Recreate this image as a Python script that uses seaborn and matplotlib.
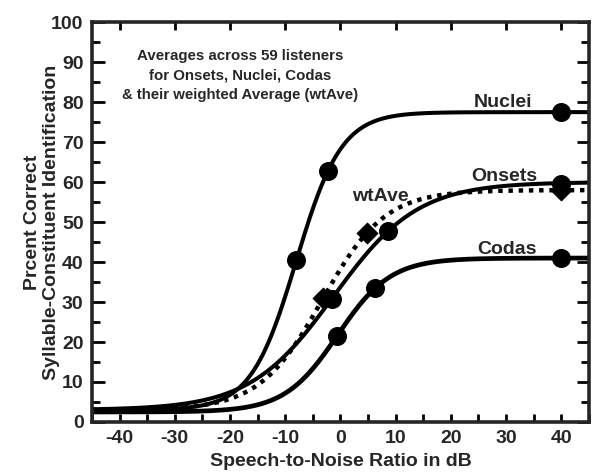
import numpy as np
import pandas as pd
import matplotlib
matplotlib.use("Agg")
import matplotlib.pyplot as plt
import seaborn as sns
from matplotlib.ticker import MultipleLocator

# ---- data ----
series = ["Nuclei", "Onsets", "Codas", "wtAve"]
# observed points (SNR in dB, percent correct)
nuclei_x = [-8.0, -2.2, 40.0]
nuclei_y = [40.5, 62.8, 77.5]
onsets_x = [-1.6, 8.7, 40.0]
onsets_y = [30.7, 47.8, 59.5]
codas_x = [-0.6, 6.3, 40.0]
codas_y = [21.5, 33.4, 41.0]
wtave_x = [-3.1, 4.8, 40.0]
wtave_y = [30.9, 47.2, 58.0]
# fitted logistic parameters per series: lower, upper, midpoint, slope
fit_lower = [3.0, 3.0, 2.5, 3.0]
fit_upper = [77.5, 60.0, 41.0, 58.0]
fit_mid = [-8.0, -1.2, -0.5, -3.3]
fit_slope = [4.1, 7.6, 4.8, 5.7]

x_ticks = [-40, -30, -20, -10, 0, 10, 20, 30, 40]
y_ticks = [0, 10, 20, 30, 40, 50, 60, 70, 80, 90, 100]

# ---- build tables ----
xs = np.linspace(-45, 45, 500)
curve_rows = []
for name, lo, up, m, s in zip(series, fit_lower, fit_upper, fit_mid, fit_slope):
    ys = lo + (up - lo) / (1 + np.exp(-(xs - m) / s))
    curve_rows.append(pd.DataFrame({"snr": xs, "pc": ys, "series": name}))
curves = pd.concat(curve_rows, ignore_index=True)

pts = pd.DataFrame({
    "snr": nuclei_x + onsets_x + codas_x + wtave_x,
    "pc": nuclei_y + onsets_y + codas_y + wtave_y,
    "series": ["Nuclei"] * 3 + ["Onsets"] * 3 + ["Codas"] * 3 + ["wtAve"] * 3,
})

sns.set_style("ticks")
plt.rcParams["font.family"] = ["Liberation Sans", "DejaVu Sans"]
plt.rcParams["font.weight"] = "bold"

fig = plt.figure(figsize=(5.93, 4.72), dpi=100)
ax = fig.add_axes([0.155, 0.106, 0.838, 0.847])

widths = {"Nuclei": 2.9, "Onsets": 2.9, "Codas": 3.4, "wtAve": 3.2}
for name in series:
    d = curves[curves.series == name]
    if name == "wtAve":
        sns.lineplot(data=d, x="snr", y="pc", ax=ax, color="black",
                     linewidth=widths[name], linestyle=(0, (1.0, 1.3)),
                     dash_capstyle="butt", legend=False)
    else:
        sns.lineplot(data=d, x="snr", y="pc", ax=ax, color="black",
                     linewidth=widths[name], legend=False)

circ = pts[pts.series != "wtAve"]
diam = pts[pts.series == "wtAve"]
sns.scatterplot(data=circ, x="snr", y="pc", ax=ax, color="black", marker="o",
                s=160, edgecolor="black", zorder=5, legend=False)
sns.scatterplot(data=diam, x="snr", y="pc", ax=ax, color="black", marker="D",
                s=110, edgecolor="black", zorder=5, legend=False)

ax.set_xlim(-45, 45)
ax.set_ylim(0, 100)
ax.set_xticks(x_ticks)
ax.set_yticks(y_ticks)
ax.xaxis.set_minor_locator(MultipleLocator(5))
ax.yaxis.set_minor_locator(MultipleLocator(5))
ax.set_xticklabels([str(v) for v in x_ticks], fontsize=14, fontweight="bold")
ax.set_yticklabels([str(v) for v in y_ticks], fontsize=14, fontweight="bold")

for sp in ax.spines.values():
    sp.set_linewidth(2.6)
    sp.set_visible(True)
ax.tick_params(which="both", direction="in", width=2.0, top=True, right=True,
               color="black", pad=6)
ax.tick_params(axis="x", which="major", length=6)
ax.tick_params(axis="x", which="minor", length=6, top=False)
ax.tick_params(axis="y", which="major", length=9)
ax.tick_params(axis="y", which="minor", length=6)

ax.set_xlabel("Speech-to-Noise Ratio in dB", fontsize=14, fontweight="bold",
              labelpad=4)
ax.set_ylabel("Prcent Correct\nSyllable-Constituent Identification",
              fontsize=14, fontweight="bold", labelpad=-6, linespacing=1.15)

ax.text(-18.2, 86.75, "Averages across 59 listeners\nfor Onsets, Nuclei, Codas\n& their weighted Average (wtAve)",
        ha="center", va="center", fontsize=10.8, fontweight="bold",
        linespacing=1.5)
ax.text(29.5, 79.8, "Nuclei", ha="center", va="center", fontsize=14, fontweight="bold")
ax.text(29.6, 61.5, "Onsets", ha="center", va="center", fontsize=14, fontweight="bold")
ax.text(30.1, 43.2, "Codas", ha="center", va="center", fontsize=14, fontweight="bold")
ax.text(7.2, 56.5, "wtAve", ha="center", va="center", fontsize=14, fontweight="bold")

fig.savefig("out.png", dpi=100)
